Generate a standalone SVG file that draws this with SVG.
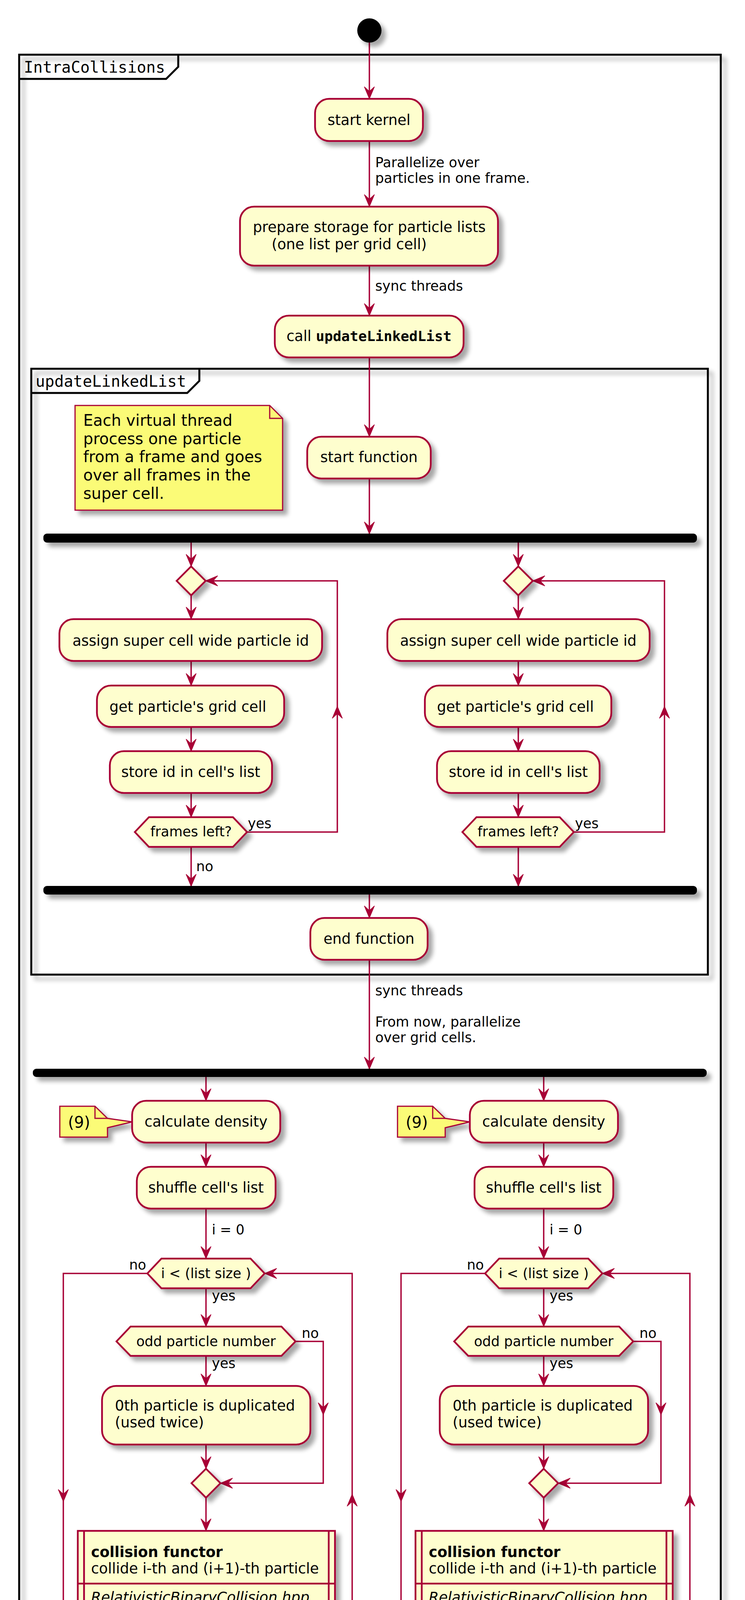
<svg xmlns="http://www.w3.org/2000/svg" width="1906" height="5109" viewBox="0 0 1906 5109">
<defs>
<filter id="sh" filterUnits="userSpaceOnUse" x="0" y="0" width="1906" height="5109">
<feGaussianBlur in="SourceAlpha" stdDeviation="6"/>
<feOffset dx="11" dy="11"/>
<feComponentTransfer><feFuncA type="linear" slope="0.35"/></feComponentTransfer>
<feMerge><feMergeNode/><feMergeNode in="SourceGraphic"/></feMerge>
</filter>
<path id="ah" d="M0,0 L-13,-31 L0,-19 L13,-31 Z"/>
<style>
.act{fill:#FEFECE;stroke:#A80036;stroke-width:4.5;filter:url(#sh)}
.ln{fill:none;stroke:#A80036;stroke-width:3.5}
.ahd{fill:#A80036;stroke:#A80036;stroke-width:1.5;stroke-linejoin:miter}
.t{font-family:"DejaVu Sans",sans-serif;font-size:37px;fill:#000}
.c{text-anchor:middle}
.e{text-anchor:end}
.lb{font-size:35px}
.nt{font-size:40px}
.frame{fill:none;stroke:#000;stroke-width:5;filter:url(#sh)}
.tab{fill:none;stroke:#000;stroke-width:5}
.ft{font-family:"DejaVu Sans Mono",monospace;font-size:40px;fill:#000}
.note{fill:#FBFB77;stroke:#A80036;stroke-width:3;filter:url(#sh)}
.fold{fill:none;stroke:#A80036;stroke-width:3}
.bar{fill:#000;stroke:#000;stroke-width:2;filter:url(#sh)}
.mono{font-family:"DejaVu Sans Mono",monospace;font-weight:bold;font-size:36px}
</style>
</defs>
<rect width="1906" height="5109" fill="#FFFFFF"/>

<g id="frame-IntraCollisions">
<rect class="frame" x="49" y="140" width="1795" height="4764"/>
<path class="tab" d="M49,202 L425,202 L456,171 L456,140"/>
<text class="ft" x="61" y="186">IntraCollisions</text>
</g>
<g id="frame-updateLinkedList">
<rect class="frame" x="80" y="944" width="1731" height="1551"/>
<path class="tab" d="M80,1006 L479,1006 L510,975 L510,944"/>
<text class="ft" x="91" y="990">updateLinkedList</text>
</g>

<g id="connectors">
<line class="ln" x1="945" y1="109" x2="945" y2="253"/>
<line class="ln" x1="945" y1="361" x2="945" y2="529"/>
<line class="ln" x1="945" y1="680" x2="945" y2="808"/>
<line class="ln" x1="945" y1="915" x2="945" y2="1118"/>
<line class="ln" x1="945" y1="1225" x2="945" y2="1367"/>
<line class="ln" x1="489" y1="1388" x2="489" y2="1450"/>
<line class="ln" x1="489" y1="1524" x2="489" y2="1585"/>
<line class="ln" x1="489" y1="1692" x2="489" y2="1755"/>
<line class="ln" x1="489" y1="1861" x2="489" y2="1923"/>
<line class="ln" x1="489" y1="2030" x2="489" y2="2092"/>
<polyline class="ln" points="632,2130 863,2130 863,1487 526,1487"/>
<line class="ln" x1="489" y1="2168" x2="489" y2="2269"/>
<line class="ln" x1="1326" y1="1388" x2="1326" y2="1450"/>
<line class="ln" x1="1326" y1="1524" x2="1326" y2="1585"/>
<line class="ln" x1="1326" y1="1692" x2="1326" y2="1755"/>
<line class="ln" x1="1326" y1="1861" x2="1326" y2="1923"/>
<line class="ln" x1="1326" y1="2030" x2="1326" y2="2092"/>
<polyline class="ln" points="1469,2130 1700,2130 1700,1487 1363,1487"/>
<line class="ln" x1="1326" y1="2168" x2="1326" y2="2269"/>
<line class="ln" x1="945" y1="2289" x2="945" y2="2350"/>
<line class="ln" x1="945" y1="2457" x2="945" y2="2737"/>
<line class="ln" x1="527" y1="2756" x2="527" y2="2818"/>
<line class="ln" x1="527" y1="2925" x2="527" y2="2987"/>
<line class="ln" x1="527" y1="3094" x2="527" y2="3222"/>
<polyline class="ln" points="377,3260 162,3260 162,4380 527,4380 527,4444"/>
<line class="ln" x1="527" y1="3298" x2="527" y2="3396"/>
<polyline class="ln" points="756,3434 827,3434 827,3797 564,3797"/>
<line class="ln" x1="527" y1="3471" x2="527" y2="3548"/>
<line class="ln" x1="527" y1="3698" x2="527" y2="3760"/>
<line class="ln" x1="527" y1="3834" x2="527" y2="3919"/>
<line class="ln" x1="527" y1="4145" x2="527" y2="4206"/>
<polyline class="ln" points="527,4313 527,4343 901,4343 901,3260 677,3260"/>
<line class="ln" x1="1391" y1="2756" x2="1391" y2="2818"/>
<line class="ln" x1="1391" y1="2925" x2="1391" y2="2987"/>
<line class="ln" x1="1391" y1="3094" x2="1391" y2="3222"/>
<polyline class="ln" points="1241,3260 1026,3260 1026,4380 1391,4380 1391,4444"/>
<line class="ln" x1="1391" y1="3298" x2="1391" y2="3396"/>
<polyline class="ln" points="1620,3434 1691,3434 1691,3797 1428,3797"/>
<line class="ln" x1="1391" y1="3471" x2="1391" y2="3548"/>
<line class="ln" x1="1391" y1="3698" x2="1391" y2="3760"/>
<line class="ln" x1="1391" y1="3834" x2="1391" y2="3919"/>
<line class="ln" x1="1391" y1="4145" x2="1391" y2="4206"/>
<polyline class="ln" points="1391,4313 1391,4343 1765,4343 1765,3260 1541,3260"/>
<line class="ln" x1="945" y1="4465" x2="945" y2="4593"/>
<line class="ln" x1="945" y1="4699" x2="945" y2="4761"/>
<line class="ln" x1="945" y1="4869" x2="945" y2="4967"/>
<g class="ahd">
<use href="#ah" transform="translate(945,253)"/>
<use href="#ah" transform="translate(945,529)"/>
<use href="#ah" transform="translate(945,808)"/>
<use href="#ah" transform="translate(945,1118)"/>
<use href="#ah" transform="translate(945,1367)"/>
<use href="#ah" transform="translate(489,1450)"/>
<use href="#ah" transform="translate(489,1585)"/>
<use href="#ah" transform="translate(489,1755)"/>
<use href="#ah" transform="translate(489,1923)"/>
<use href="#ah" transform="translate(489,2092)"/>
<use href="#ah" transform="translate(526,1487) rotate(90)"/>
<use href="#ah" transform="translate(863,1808) rotate(180)"/>
<use href="#ah" transform="translate(489,2269)"/>
<use href="#ah" transform="translate(1326,1450)"/>
<use href="#ah" transform="translate(1326,1585)"/>
<use href="#ah" transform="translate(1326,1755)"/>
<use href="#ah" transform="translate(1326,1923)"/>
<use href="#ah" transform="translate(1326,2092)"/>
<use href="#ah" transform="translate(1363,1487) rotate(90)"/>
<use href="#ah" transform="translate(1700,1808) rotate(180)"/>
<use href="#ah" transform="translate(1326,2269)"/>
<use href="#ah" transform="translate(945,2350)"/>
<use href="#ah" transform="translate(945,2737)"/>
<use href="#ah" transform="translate(527,2818)"/>
<use href="#ah" transform="translate(527,2987)"/>
<use href="#ah" transform="translate(527,3222)"/>
<use href="#ah" transform="translate(162,3844)"/>
<use href="#ah" transform="translate(527,4444)"/>
<use href="#ah" transform="translate(527,3396)"/>
<use href="#ah" transform="translate(827,3622)"/>
<use href="#ah" transform="translate(564,3797) rotate(90)"/>
<use href="#ah" transform="translate(527,3548)"/>
<use href="#ah" transform="translate(527,3760)"/>
<use href="#ah" transform="translate(527,3919)"/>
<use href="#ah" transform="translate(527,4206)"/>
<use href="#ah" transform="translate(901,3825) rotate(180)"/>
<use href="#ah" transform="translate(677,3260) rotate(90)"/>
<use href="#ah" transform="translate(1391,2818)"/>
<use href="#ah" transform="translate(1391,2987)"/>
<use href="#ah" transform="translate(1391,3222)"/>
<use href="#ah" transform="translate(1026,3844)"/>
<use href="#ah" transform="translate(1391,4444)"/>
<use href="#ah" transform="translate(1391,3396)"/>
<use href="#ah" transform="translate(1691,3622)"/>
<use href="#ah" transform="translate(1428,3797) rotate(90)"/>
<use href="#ah" transform="translate(1391,3548)"/>
<use href="#ah" transform="translate(1391,3760)"/>
<use href="#ah" transform="translate(1391,3919)"/>
<use href="#ah" transform="translate(1391,4206)"/>
<use href="#ah" transform="translate(1765,3825) rotate(180)"/>
<use href="#ah" transform="translate(1541,3260) rotate(90)"/>
<use href="#ah" transform="translate(945,4593)"/>
<use href="#ah" transform="translate(945,4761)"/>
<use href="#ah" transform="translate(945,4967)"/>
</g>
<g class="t lb">
<text x="960" y="428">Parallelize over</text>
<text x="960" y="468">particles in one frame.</text>
<text x="960" y="744">sync threads</text>
<text x="634" y="2120">yes</text>
<text x="1471" y="2120">yes</text>
<text x="502" y="2230">no</text>
<text x="960" y="2548">sync threads</text>
<text x="960" y="2628">From now, parallelize</text>
<text x="960" y="2668">over grid cells.</text>
<text x="542" y="3160">i = 0</text>
<text x="1406" y="3160">i = 0</text>
<text class="e" x="374" y="3250">no</text>
<text class="e" x="1238" y="3250">no</text>
<text x="542" y="3329">yes</text>
<text x="1406" y="3329">yes</text>
<text x="772" y="3425">no</text>
<text x="1636" y="3425">no</text>
<text x="542" y="3502">yes</text>
<text x="1406" y="3502">yes</text>
<text x="960" y="4527">sync threads</text>
</g>
</g>

<g id="start">
<circle cx="945" cy="78" r="31" fill="#000" filter="url(#sh)"/>
</g>
<g id="start-kernel">
<rect class="act" x="806" y="253" width="276" height="108" rx="36"/>
<text class="t c" x="944" y="320">start kernel</text>
</g>
<g id="prepare-storage">
<rect class="act" x="614" y="529" width="660" height="151" rx="36"/>
<text class="t" x="647" y="594">prepare storage for particle lists</text>
<text class="t" x="695" y="638">(one list per grid cell)</text>
</g>
<g id="call-updateLinkedList">
<rect class="act" x="703" y="808" width="483" height="107" rx="36"/>
<text class="t" x="733" y="873">call <tspan class="mono">updateLinkedList</tspan></text>
</g>
<g id="note-thread">
<path class="note" d="M192,1038 L690,1038 L723,1071 L723,1306 L192,1306 Z"/>
<path class="fold" d="M690,1038 L690,1071 L723,1071"/>
<text class="t nt" x="213" y="1090">Each virtual thread</text>
<text class="t nt" x="213" y="1137">process one particle</text>
<text class="t nt" x="213" y="1183">from a frame and goes</text>
<text class="t nt" x="213" y="1230">over all frames in the</text>
<text class="t nt" x="213" y="1277">super cell.</text>
</g>
<g id="start-function">
<rect class="act" x="786" y="1118" width="316" height="107" rx="36"/>
<text class="t c" x="944" y="1183">start function</text>
</g>
<g id="fork1">
<rect class="bar" x="112" y="1367" width="1670" height="21" rx="8"/>
</g>
<g id="loop-left-1">
<polygon class="act" points="489,1450 526,1487 489,1524 452,1487"/>
<rect class="act" x="152" y="1585" width="672" height="107" rx="36"/>
<text class="t c" x="488" y="1653">assign super cell wide particle id</text>
<rect class="act" x="248" y="1755" width="479" height="106" rx="36"/>
<text class="t" x="280" y="1822">get particle's grid cell</text>
<rect class="act" x="281" y="1923" width="415" height="107" rx="36"/>
<text class="t c" x="488" y="1989">store id in cell's list</text>
<polygon class="act" points="345,2130 381,2092 596,2092 632,2130 596,2168 381,2168"/>
<text class="t lb c" x="489" y="2141">frames left?</text>
</g>
<g id="loop-right-1">
<polygon class="act" points="1326,1450 1363,1487 1326,1524 1289,1487"/>
<rect class="act" x="991" y="1585" width="671" height="107" rx="36"/>
<text class="t c" x="1326" y="1653">assign super cell wide particle id</text>
<rect class="act" x="1087" y="1755" width="477" height="106" rx="36"/>
<text class="t" x="1118" y="1822">get particle's grid cell</text>
<rect class="act" x="1118" y="1923" width="416" height="107" rx="36"/>
<text class="t c" x="1326" y="1989">store id in cell's list</text>
<polygon class="act" points="1183,2130 1219,2092 1432,2092 1468,2130 1432,2168 1219,2168"/>
<text class="t lb c" x="1326" y="2141">frames left?</text>
</g>
<g id="join1">
<rect class="bar" x="112" y="2269" width="1670" height="20" rx="8"/>
</g>
<g id="end-function">
<rect class="act" x="794" y="2350" width="300" height="107" rx="36"/>
<text class="t c" x="944" y="2416">end function</text>
</g>
<g id="fork2">
<rect class="bar" x="85" y="2737" width="1722" height="19" rx="8"/>
</g>
<g id="cell-left">
<path class="note" d="M153,2832 L243,2832 L275,2863 L338,2872 L275,2887 L275,2911 L153,2911 Z"/>
<path class="fold" d="M243,2832 L243,2863 L275,2863"/>
<text class="t nt" x="174" y="2887">(9)</text>
<rect class="act" x="338" y="2818" width="379" height="107" rx="36"/>
<text class="t c" x="527" y="2884">calculate density</text>
<rect class="act" x="350" y="2987" width="355" height="107" rx="36"/>
<text class="t c" x="527" y="3053">shuffle cell's list</text>
<polygon class="act" points="377,3260 413,3222 641,3222 677,3260 641,3298 413,3298"/>
<text class="t lb c" x="527" y="3272">i &lt; (list size )</text>
<polygon class="act" points="298,3434 334,3396 720,3396 756,3434 720,3471 334,3471"/>
<text class="t lb c" x="527" y="3446">odd particle number</text>
<rect class="act" x="261" y="3548" width="533" height="150" rx="36"/>
<text class="t" x="294" y="3611">0th particle is duplicated</text>
<text class="t" x="294" y="3654">(used twice)</text>
<polygon class="act" points="527,3760 564,3797 527,3834 490,3797"/>
<rect class="act" x="199" y="3919" width="658" height="226"/>
<path class="fold" style="stroke-width:4.5" d="M215,3919 V4145 M841,3919 V4145 M199,4054 H857"/>
<text class="t" x="233" y="3986" font-weight="bold">collision functor</text>
<text class="t" x="233" y="4028">collide i-th and (i+1)-th particle</text>
<text class="t" x="233" y="4102" font-style="italic">RelativisticBinaryCollision.hpp</text>
<rect class="act" x="443" y="4206" width="168" height="107" rx="37"/>
<text class="t c" x="527" y="4272">i=i+2</text>
</g>
<g id="cell-right">
<path class="note" d="M1017,2832 L1107,2832 L1139,2863 L1202,2872 L1139,2887 L1139,2911 L1017,2911 Z"/>
<path class="fold" d="M1107,2832 L1107,2863 L1139,2863"/>
<text class="t nt" x="1038" y="2887">(9)</text>
<rect class="act" x="1202" y="2818" width="379" height="107" rx="36"/>
<text class="t c" x="1391" y="2884">calculate density</text>
<rect class="act" x="1214" y="2987" width="355" height="107" rx="36"/>
<text class="t c" x="1391" y="3053">shuffle cell's list</text>
<polygon class="act" points="1241,3260 1277,3222 1505,3222 1541,3260 1505,3298 1277,3298"/>
<text class="t lb c" x="1391" y="3272">i &lt; (list size )</text>
<polygon class="act" points="1162,3434 1198,3396 1584,3396 1620,3434 1584,3471 1198,3471"/>
<text class="t lb c" x="1391" y="3446">odd particle number</text>
<rect class="act" x="1125" y="3548" width="533" height="150" rx="36"/>
<text class="t" x="1158" y="3611">0th particle is duplicated</text>
<text class="t" x="1158" y="3654">(used twice)</text>
<polygon class="act" points="1391,3760 1428,3797 1391,3834 1354,3797"/>
<rect class="act" x="1063" y="3919" width="658" height="226"/>
<path class="fold" style="stroke-width:4.5" d="M1079,3919 V4145 M1705,3919 V4145 M1063,4054 H1721"/>
<text class="t" x="1097" y="3986" font-weight="bold">collision functor</text>
<text class="t" x="1097" y="4028">collide i-th and (i+1)-th particle</text>
<text class="t" x="1097" y="4102" font-style="italic">RelativisticBinaryCollision.hpp</text>
<rect class="act" x="1307" y="4206" width="168" height="107" rx="37"/>
<text class="t c" x="1391" y="4272">i=i+2</text>
</g>
<g id="join2">
<rect class="bar" x="85" y="4444" width="1722" height="21" rx="8"/>
</g>
<g id="free-storage">
<rect class="act" x="693" y="4593" width="504" height="106" rx="36"/>
<text class="t c" x="945" y="4658">free particle list storage</text>
</g>
<g id="end-kernel">
<rect class="act" x="814" y="4761" width="261" height="108" rx="36"/>
<text class="t c" x="944" y="4827">end kernel</text>
</g>
<g id="stop">
<circle cx="945" cy="5002" r="34" fill="#FFFFFF" stroke="#000" stroke-width="3.5" filter="url(#sh)"/>
<circle cx="945" cy="5002" r="18.5" fill="#000"/>
</g>
</svg>
